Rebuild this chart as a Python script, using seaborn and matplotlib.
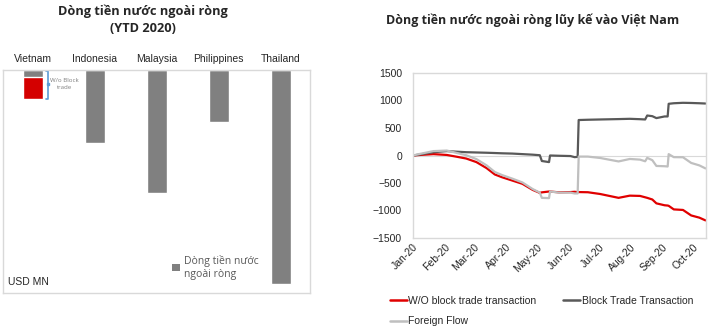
import matplotlib
matplotlib.use("Agg")
import matplotlib.pyplot as plt
import matplotlib.dates as mdates
from matplotlib.patches import Patch
from matplotlib.lines import Line2D
import seaborn as sns
import pandas as pd
import numpy as np

sns.set_theme(style="white")
plt.rcParams['font.family'] = ['Liberation Sans', 'DejaVu Sans']

# ---------------- data ----------------
countries = ["Vietnam", "Indonesia", "Malaysia", "Philippines", "Thailand"]
net_flow = [-270, -2960, -4990, -2100, -8710]        # USD MN, YTD 2020
vn_wo_block = -1180                                   # Vietnam excl. block trade

dates = ["2020-01-01", "2020-01-08", "2020-01-21", "2020-02-03", "2020-02-12",
         "2020-02-22", "2020-03-03", "2020-03-13", "2020-03-21", "2020-03-28",
         "2020-04-07", "2020-04-17", "2020-04-27", "2020-05-04", "2020-05-06",
         "2020-05-13", "2020-05-14", "2020-05-23", "2020-06-03", "2020-06-07",
         "2020-06-10", "2020-06-11", "2020-06-20", "2020-07-02", "2020-07-20",
         "2020-07-31", "2020-08-10", "2020-08-15", "2020-08-17", "2020-08-22",
         "2020-08-26", "2020-09-03", "2020-09-06", "2020-09-07", "2020-09-12",
         "2020-09-21", "2020-09-29", "2020-10-07", "2020-10-13"]
wo_block = [0, 10, 25, 10, -20, -55, -120, -230, -345, -395,
            -455, -515, -625, -680, -670, -655, -655, -670, -665, -660,
            -665, -665, -668, -700, -770, -730, -735, -760, -770, -800,
            -870, -905, -910, -915, -980, -990, -1090, -1130, -1180]
block_trade = [0, 20, 60, 80, 70, 60, 55, 50, 45, 40,
               35, 25, 15, 5, -100, -120, 0, -5, -10, -30,
               -25, 645, 650, 655, 662, 667, 660, 655, 727, 715,
               680, 710, 710, 940, 950, 958, 955, 950, 945]
foreign_flow = [0, 30, 80, 90, 50, 5, -65, -180, -300, -355,
                -420, -490, -610, -675, -770, -775, -655, -675, -675, -690,
                -690, -20, -20, -45, -108, -63, -75, -105, -43, -85,
                -190, -195, -200, 25, -30, -32, -135, -180, -235]

series_names = ["W/O block trade transaction", "Block Trade Transaction", "Foreign Flow"]
series_colors = ["#e00000", "#595959", "#bfbfbf"]

# ---------------- figure ----------------
W, H = 710, 328
fig = plt.figure(figsize=(W / 100, H / 100), dpi=100)

# ----- left chart -----
axL = fig.add_axes([3 / W, (H - 293) / H, 307 / W, 223 / H])
sns.barplot(x=["Vietnam"], y=[vn_wo_block], order=countries, color="#d40000",
            saturation=1, width=0.32, ax=axL)
sns.barplot(x=countries, y=net_flow, order=countries, color="#808080",
            saturation=1, width=0.32, ax=axL)
axL.set_xlim(-0.48, 4.47)
axL.set_ylim(-9075, 0)
axL.xaxis.tick_top()
axL.set_xticks(range(len(countries)))
axL.set_xticklabels(countries, fontsize=7.5, color="#262626")
axL.tick_params(axis="x", length=0, pad=4)
axL.set_yticks([])
axL.set_xlabel("")
axL.set_ylabel("")
for s in axL.spines.values():
    s.set_color("#d9d9d9")
    s.set_linewidth(1)

# bracket annotation on Vietnam bar
bx = 0.24
axL.plot([bx - 0.03, bx, bx, bx - 0.03], [-40, -40, vn_wo_block, vn_wo_block],
         color="#5b9bd5", lw=1.2, clip_on=False)
axL.plot([bx + 0.01], [vn_wo_block / 2], marker="s", ms=1.5, color="#5b9bd5")
axL.text(0.51, vn_wo_block / 2, "W/o Block\ntrade", fontsize=4.4, color="#7f7f7f",
         ha="center", va="center", family=["Open Sans", "DejaVu Sans"], linespacing=1.5)

axL.text(5 / 307, 11 / 223, "USD MN", transform=axL.transAxes, fontsize=7.5,
         color="#262626", ha="left", va="center")
legL = axL.legend(handles=[Patch(facecolor="#808080", edgecolor="none")],
                  labels=["Dòng tiền nước\nngoài ròng"], loc="lower left",
                  bbox_to_anchor=(160 / 307, 4 / 223), frameon=False,
                  prop={"family": ["Open Sans", "DejaVu Sans"], "size": 7.5},
                  handlelength=0.7, handleheight=0.7, handletextpad=0.4,
                  labelcolor="#595959")

fig.text(143 / W, 1 - 20 / H, "Dòng tiền nước ngoài ròng\n(YTD 2020)", ha="center",
         va="center", fontsize=9.2, fontweight="bold", color="#262626",
         family=["Open Sans", "DejaVu Sans"], linespacing=1.35)

# ----- right chart -----
df = pd.DataFrame({
    "date": pd.to_datetime(dates * 3),
    "value": wo_block + block_trade + foreign_flow,
    "series": np.repeat(series_names, len(dates)),
})
axR = fig.add_axes([413 / W, (H - 238) / H, 293 / W, 165 / H])
axR.axhline(0, color="#d9d9d9", lw=0.8, zorder=0)
sns.lineplot(data=df, x="date", y="value", hue="series", hue_order=series_names,
             palette=series_colors, linewidth=1.6, legend=False, ax=axR)
axR.set_xlim(pd.Timestamp("2020-01-01"), pd.Timestamp("2020-10-13 12:00"))
axR.set_ylim(-1500, 1500)
axR.set_yticks(range(-1500, 1501, 500))
axR.xaxis.set_major_locator(mdates.MonthLocator())
axR.xaxis.set_major_formatter(mdates.DateFormatter("%b-%y"))
axR.tick_params(axis="y", length=0, labelsize=7.5, labelcolor="#262626", pad=8)
axR.tick_params(axis="x", length=0, labelsize=7.5, labelcolor="#262626", pad=3)
for lab in axR.get_xticklabels():
    lab.set_rotation(45)
    lab.set_ha("right")
    lab.set_rotation_mode("anchor")
axR.set_xlabel("")
axR.set_ylabel("")
for s in axR.spines.values():
    s.set_color("#d9d9d9")
    s.set_linewidth(1)

# legend laid out row-wise: (W/O, Block) / (Foreign)
leg_order = [0, 2, 1]
handles = [Line2D([], [], color=series_colors[i], lw=1.8) for i in leg_order]
labels = [series_names[i] for i in leg_order]
fig.legend(handles=handles, labels=labels, loc="upper left",
           bbox_to_anchor=(390 / W, 1 - 296 / H), ncol=2, frameon=False,
           fontsize=7.5, handlelength=1.6, handletextpad=0.15,
           columnspacing=2.6, labelspacing=1.0, borderaxespad=0, borderpad=0)

fig.text(533 / W, 1 - 20 / H, "Dòng tiền nước ngoài ròng lũy kế vào Việt Nam",
         ha="center", va="center", fontsize=9, fontweight="bold", color="#262626",
         family=["Open Sans", "DejaVu Sans"])

fig.savefig("out.png", dpi=100)
